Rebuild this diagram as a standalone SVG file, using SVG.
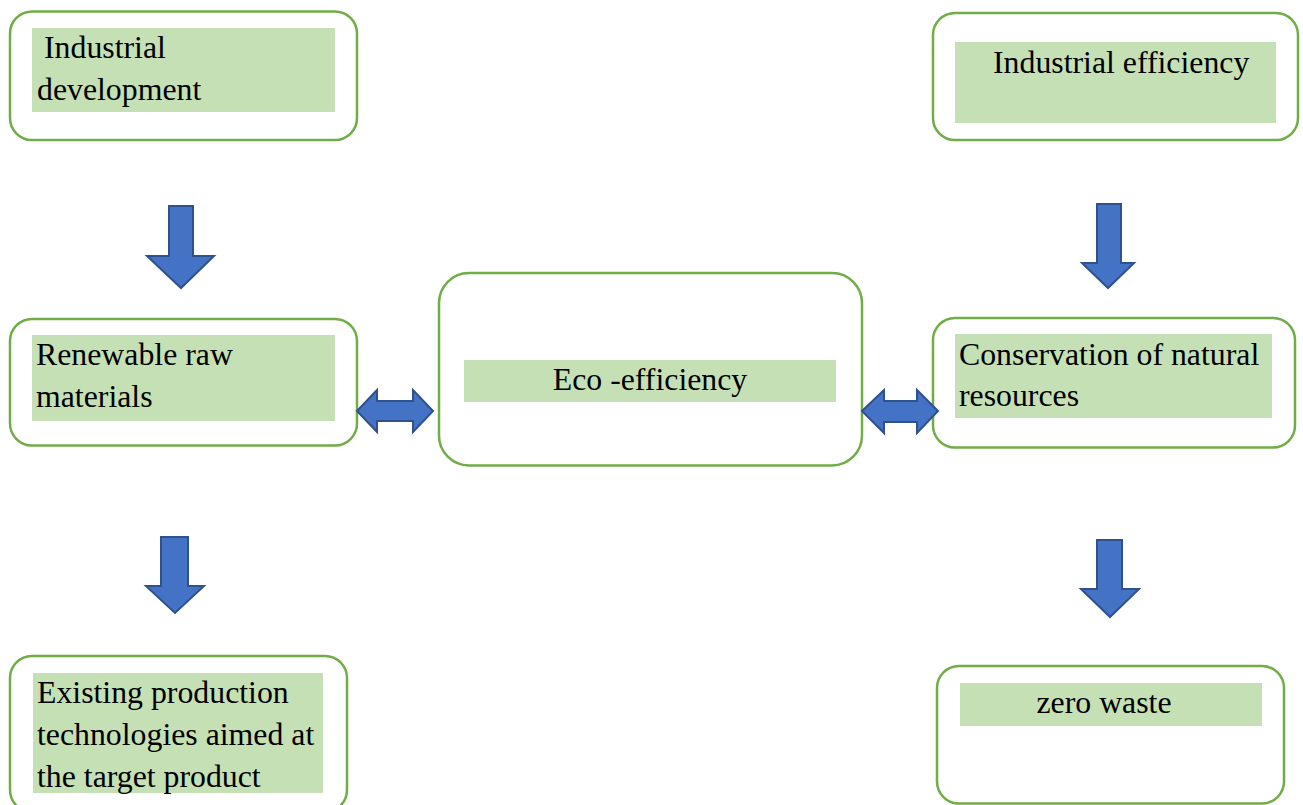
<svg xmlns="http://www.w3.org/2000/svg" width="1303" height="805" viewBox="0 0 1303 805">
<style>
.box{fill:#ffffff;stroke:#70AD47;stroke-width:2.5}
.hl{fill:#C5E0B4}
.t{font-family:"Liberation Serif","Times New Roman",serif;font-size:31.8px;fill:#000000}
.arr{fill:#4472C4;stroke:#2F528F;stroke-width:2;stroke-linejoin:miter}
</style>
<rect width="1303" height="805" fill="#ffffff"/>
<g id="n-industrial-development">
<rect class="box" x="10" y="11.5" width="347" height="128.5" rx="22"/>
<rect class="hl" x="32" y="28" width="303" height="84"/>
<text class="t" x="44" y="58">Industrial</text>
<text class="t" x="37" y="100">development</text>
</g>
<g id="n-industrial-efficiency">
<rect class="box" x="933" y="13" width="365" height="127" rx="22"/>
<rect class="hl" x="955" y="42" width="321" height="81"/>
<text class="t" x="993" y="73">Industrial efficiency</text>
</g>
<g id="n-renewable">
<rect class="box" x="10" y="319" width="347" height="126.5" rx="22"/>
<rect class="hl" x="32" y="335" width="303" height="86"/>
<text class="t" x="36" y="365">Renewable raw</text>
<text class="t" x="36" y="407">materials</text>
</g>
<g id="n-eco-efficiency">
<rect class="box" x="439" y="273" width="423" height="192.5" rx="30"/>
<rect class="hl" x="464" y="360" width="372" height="42"/>
<text class="t" x="650" y="390" text-anchor="middle">Eco -efficiency</text>
</g>
<g id="n-conservation">
<rect class="box" x="933" y="318" width="362" height="129.5" rx="22"/>
<rect class="hl" x="955" y="334" width="317" height="84"/>
<text class="t" x="959" y="365">Conservation of natural</text>
<text class="t" x="959" y="406">resources</text>
</g>
<g id="n-existing">
<rect class="box" x="10" y="656" width="337" height="156" rx="22"/>
<rect class="hl" x="33" y="673" width="290" height="120"/>
<text class="t" x="37" y="703">Existing production</text>
<text class="t" x="37" y="745">technologies aimed at</text>
<text class="t" x="37" y="787">the target product</text>
</g>
<g id="n-zero-waste">
<rect class="box" x="937" y="666" width="347" height="137.5" rx="22"/>
<rect class="hl" x="960" y="683" width="302" height="43"/>
<text class="t" x="1104" y="713" text-anchor="middle">zero waste</text>
</g>
<g id="connectors">
<polygon class="arr" points="169,206 193,206 193,256 214,256 181,288 147,256 169,256"/>
<polygon class="arr" points="161,537 188,537 188,586 204,586 175,613 146,586 161,586"/>
<polygon class="arr" points="1097,204 1121,204 1121,263 1134,263 1108,288 1082,263 1097,263"/>
<polygon class="arr" points="1097,540 1122,540 1122,589 1139,589 1110,617 1081,589 1097,589"/>
<polygon class="arr" points="357,411 377,390 377,401 413,401 413,390 433,411 413,432 413,421 377,421 377,432"/>
<polygon class="arr" points="862,411 884,390 884,401 917,401 917,390 938,411 917,433 917,422 884,422 884,433"/>
</g>
</svg>
